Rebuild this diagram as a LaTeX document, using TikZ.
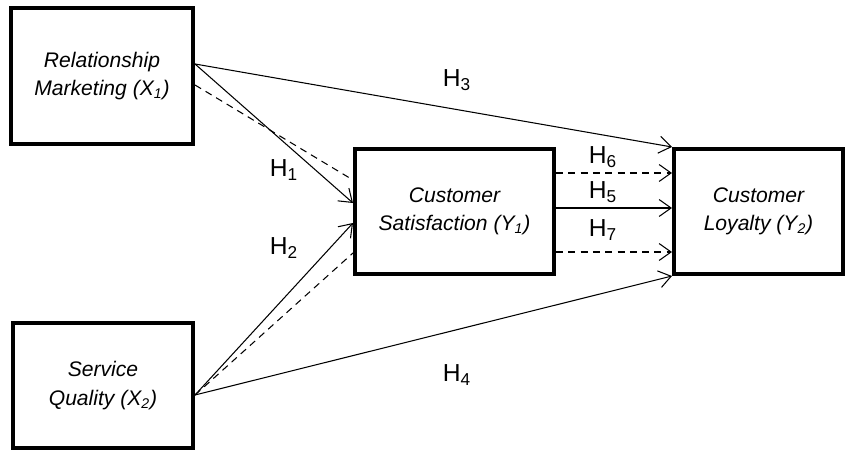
\documentclass[tikz,border=0pt]{standalone}
\usepackage{fontspec}
\setmainfont{Liberation Sans}
\usetikzlibrary{arrows.meta,positioning}
\usetikzlibrary{calc}

\begin{document}
\begin{tikzpicture}[
  construct/.style={draw, line width=2.3pt, align=center, inner sep=0pt,
    font=\fontsize{12}{16}\selectfont\itshape},
  path/.style={line width=0.6pt, -{Straight Barb[length=2.4mm,width=3.4mm]}},
  nopath/.style={line width=0.6pt, dashed, dash pattern=on 4pt off 3pt},
  hyp/.style={font=\fontsize{14}{16}\selectfont},
  scale=1
]
\useasboundingbox (0,0) rectangle (16.92,9);

% ==================
% Constructs
% ==================
\node[construct, minimum width=3.64cm, minimum height=2.72cm] (rm) at (2.04,7.48)
  {Relationship\\Marketing (X\textsubscript{1})};
\node[construct, minimum width=3.6cm, minimum height=2.5cm] (sq) at (2.06,1.29)
  {Service\\Quality (X\textsubscript{2})};
\node[construct, minimum width=3.98cm, minimum height=2.5cm] (cs) at (9.09,4.77)
  {Customer\\Satisfaction (Y\textsubscript{1})};
\node[construct, minimum width=3.38cm, minimum height=2.5cm] (cl) at (15.17,4.77)
  {Customer\\Loyalty (Y\textsubscript{2})};

% ==================
% Direct paths
% ==================
\draw[path] ([yshift=0.24cm]rm.east) -- ([yshift=0.17cm]cs.west);
\draw[path] ([yshift=-0.19cm]sq.east) -- ([yshift=-0.23cm]cs.west);
\draw[path] ([yshift=0.24cm]rm.east) -- (cl.north west);
\draw[path] ([yshift=-0.19cm]sq.east) -- (cl.south west);
\draw[path] ([yshift=0.07cm]cs.east) -- ([yshift=0.07cm]cl.west);

% ==================
% Mediated paths
% ==================
\draw[nopath] ([yshift=-0.18cm]rm.east) -- ([yshift=0.63cm]cs.west);
\draw[nopath] ([yshift=-0.19cm]sq.east) -- ([yshift=-0.83cm]cs.west);
\draw[nopath, -{Straight Barb[length=2.4mm,width=3.4mm]}]
  ([yshift=0.77cm]cs.east) -- ([yshift=0.77cm]cl.west);
\draw[nopath, -{Straight Barb[length=2.4mm,width=3.4mm]}]
  ([yshift=-0.81cm]cs.east) -- ([yshift=-0.81cm]cl.west);

% ==================
% Hypotheses
% ==================
\node[hyp] (h1) at (5.68,5.6) {H\textsubscript{1}};
\node[hyp] (h2) at (5.68,4.04) {H\textsubscript{2}};
\node[hyp] (h3) at (9.14,7.4) {H\textsubscript{3}};
\node[hyp] (h4) at (9.14,1.5) {H\textsubscript{4}};
\node[hyp] (h5) at (12.06,5.16) {H\textsubscript{5}};
\node[hyp] (h6) at (12.06,5.86) {H\textsubscript{6}};
\node[hyp] (h7) at (12.06,4.4) {H\textsubscript{7}};
\end{tikzpicture}
\end{document}
